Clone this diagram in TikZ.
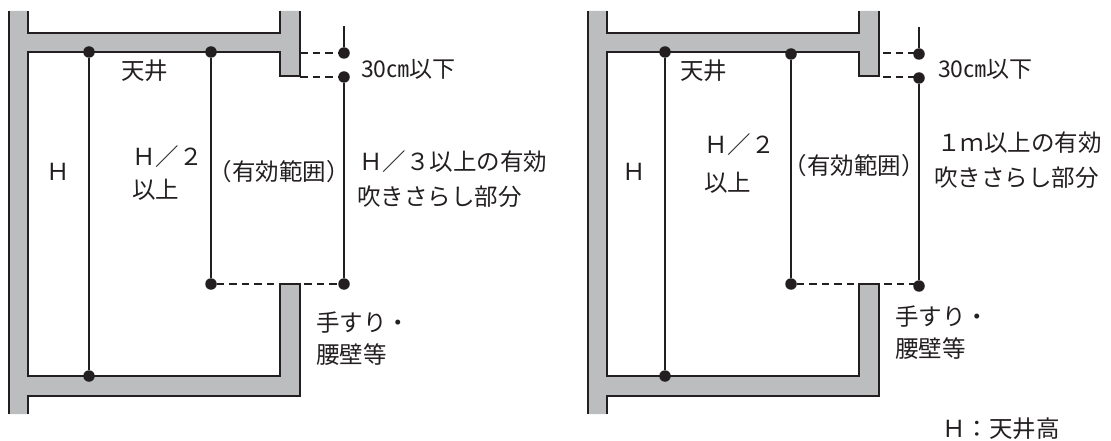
\documentclass[tikz,border=0pt]{standalone}
\usepackage{fontspec}
\setmainfont{Noto Sans CJK JP}
\definecolor{wallgray}{HTML}{BBBDBF}
\definecolor{ink}{HTML}{231F20}
\tikzset{
  wallfill/.style={fill=wallgray,draw=none},
  wallline/.style={draw=ink,line width=1.7pt,line join=miter},
  dot/.style={circle,fill=ink,draw=none,inner sep=0pt,minimum size=11.5pt},
  measure/.style={draw=ink,line width=1.5pt},
  guide/.style={draw=ink,line width=1.5pt,dash pattern=on 7.5pt off 5pt},
  label/.style={anchor=west,inner sep=0pt,text=ink,font=\fontsize{23.5}{23.5}\selectfont},
  small/.style={label,font=\fontsize{23}{23}\selectfont}
}
\newcommand{\wallshape}{%
  \path[wallfill] (9,11)--(9,414)--(28,414)--(28,396)--(300,396)--(300,284)--(280,284)--(280,376)--(28,376)--(28,52)--(280,52)--(280,76)--(300,76)--(300,11)--(280,11)--(280,33)--(28,33)--(28,11)--cycle;
  \draw[wallline] (9,11)--(9,414);
  \draw[wallline] (28,414)--(28,396)--(300,396)--(300,284)--(280,284)--(280,376)--(28,376)--(28,52)--(280,52)--(280,76)--(300,76)--(300,11);
  \draw[wallline] (280,11)--(280,33)--(28,33)--(28,11);
}
\begin{document}
\begin{tikzpicture}[x=1pt,y=-1pt]
\useasboundingbox (0,0) rectangle (1111,441);
\wallshape
\begin{scope}[xshift=579pt]
\wallshape
\end{scope}
% left figure
\node[dot] (a1) at (89,52) {};
\node[dot] (a2) at (89,376) {};
\node[dot] (b1) at (211,52) {};
\node[dot] (b2) at (211,284) {};
\node[dot] (c1) at (344,53) {};
\node[dot] (c2) at (344,77) {};
\node[dot] (c3) at (344,284) {};
\coordinate (ctop) at (344,26);
\coordinate (s1) at (300,53);
\coordinate (s2) at (300,77);
\draw[measure] (a1)--(a2);
\draw[measure] (b1)--(b2);
\draw[measure] (ctop)--(c1);
\draw[measure] (c2)--(c3);
\draw[guide] (s1)--(c1);
\draw[guide] (s2)--(c2);
\draw[guide] (b2)--(c3);
\node[label] (t1) at (121,71) {天井};
\node[label] (t2) at (46,172) {Ｈ};
\node[label] (t3) at (132,157) {Ｈ／２};
\node[label] (t4) at (132,190) {以上};
\node[label] (t5) at (208.5,172) {（有効範囲）};
\node[small] (t6) at (361,69) {30㎝以下};
\node[label] (t7) at (359,162) {Ｈ／３以上の有効};
\node[label] (t8) at (357,197) {吹きさらし部分};
\node[label] (t9) at (316,323) {手すり・};
\node[label] (t10) at (316,355) {腰壁等};
% right figure
\node[dot] (d1) at (665,52) {};
\node[dot] (d2) at (665,376) {};
\node[dot] (e1) at (791,54) {};
\node[dot] (e2) at (791,284) {};
\node[dot] (f1) at (919,54) {};
\node[dot] (f2) at (919,78) {};
\node[dot] (f3) at (919,286) {};
\coordinate (ftop) at (919,27);
\coordinate (r1) at (883,53);
\coordinate (r2) at (883,77);
\draw[measure] (d1)--(d2);
\draw[measure] (e1)--(e2);
\draw[measure] (ftop)--(f1);
\draw[measure] (f2)--(f3);
\draw[guide] (r1)--(r1-|f1);
\draw[guide] (r2)--(r2-|f2);
\draw[guide] (e2)--(e2-|f3);
\node[label] (u1) at (680,71) {天井};
\node[label] (u2) at (622,172) {Ｈ};
\node[label] (u3) at (704,145) {Ｈ／２};
\node[label] (u4) at (704,183) {以上};
\node[label] (u5) at (783.5,166) {（有効範囲）};
\node[small] (u6) at (938,69) {30㎝以下};
\node[label] (u7) at (937,143) {１ｍ以上の有効};
\node[label] (u8) at (934,178) {吹きさらし部分};
\node[label] (u9) at (895,317) {手すり・};
\node[label] (u10) at (895,349) {腰壁等};
\node[label] (u11) at (942,429) {Ｈ：天井高};
\end{tikzpicture}
\end{document}
